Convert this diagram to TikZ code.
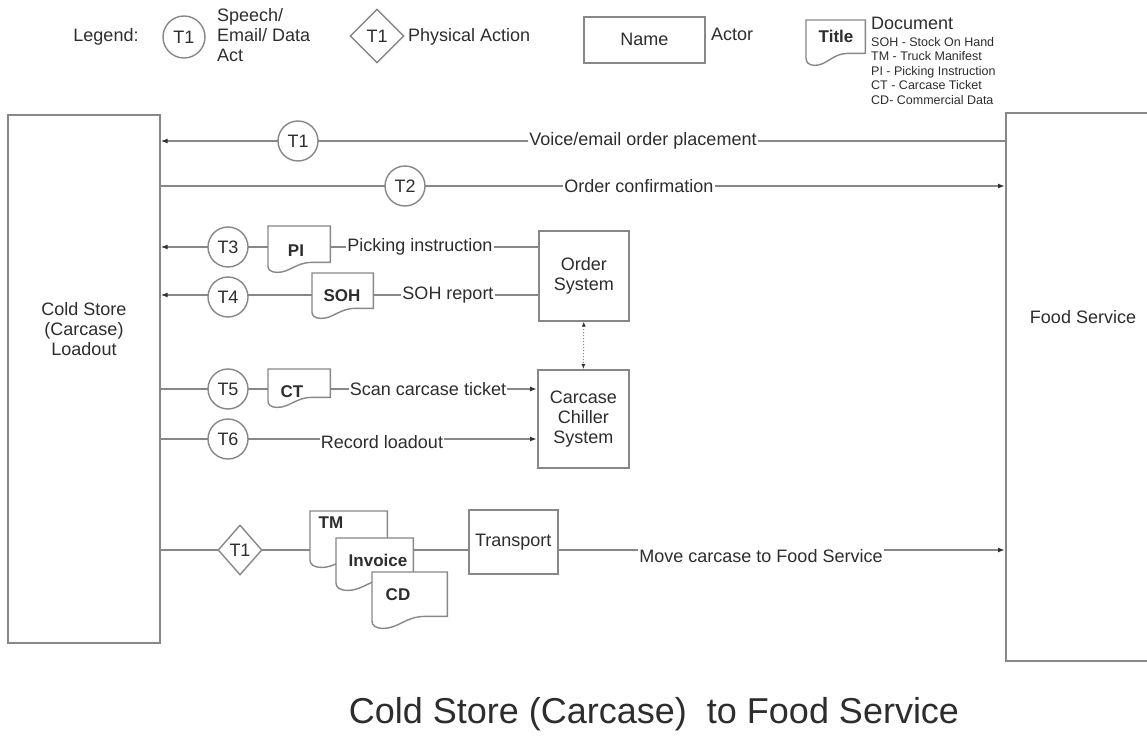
\documentclass[tikz,border=0pt]{standalone}
\usepackage{fontspec}
\setmainfont{Liberation Sans}
\usetikzlibrary{arrows.meta,shapes.geometric,calc}
\definecolor{linec}{RGB}{135,135,135}
\definecolor{txtc}{RGB}{45,45,45}
\definecolor{tipc}{RGB}{50,50,50}
\pgfdeclarelayer{background}
\pgfsetlayers{background,main}
\tikzset{
 base/.style={font=\fontsize{18}{20}\selectfont, text=txtc},
 lbl/.style={base, fill=white, inner sep=1pt, align=center},
 actor/.style={draw=linec, line width=1.6pt, fill=white, rectangle, inner sep=0pt, align=center},
 tact/.style={base, circle, draw=linec, line width=1.4pt, fill=white, minimum size=40pt, inner sep=0pt},
 pact/.style={base, diamond, draw=linec, line width=1.4pt, fill=white, inner sep=0pt},
 docbox/.style={rectangle, inner sep=0pt, anchor=north west},
 docshape/.style={draw=linec, line width=1.4pt, fill=white},
 doclbl/.style={font=\bfseries\fontsize{17}{19}\selectfont, text=txtc, inner sep=0pt},
 flow/.style={draw=linec, line width=1.6pt},
 arr/.style={flow, -{Latex[length=7pt,width=5pt,color=tipc]}},
}
\newcommand{\docpath}[2]{%
 \path[docshape] let \p1=(#1.north west), \p2=(#1.south east), \n1={\x2-\x1} in
 (\x1,\y1) -- (\x2,\y1) -- (\x2,\y2) -- ({\x1+0.7*\n1},\y2)
 .. controls ({\x1+0.45*\n1},\y2) and ({\x1+0.35*\n1},{\y2-#2}) .. ({\x1+0.15*\n1},{\y2-#2})
 .. controls ({\x1+0.04*\n1},{\y2-#2}) and (\x1,{\y2-0.7*#2}) .. (\x1,{\y2-0.4*#2}) -- cycle;}
\begin{document}
\begin{tikzpicture}[x=1pt,y=-1pt]
\useasboundingbox (0,0) rectangle (1147,751);

% ---------- legend ----------
\node[base] (legtxt) at (106,37) {Legend:};
\node[tact, minimum size=42pt] (legc) at (184,37) {T1};
\node[base, anchor=west, align=left, inner sep=0pt] (legct) at (217,35) {Speech/\\Email/ Data\\Act};
\node[pact, minimum width=54pt, minimum height=54pt] (legd) at (377,36) {T1};
\node[base, anchor=west, inner sep=0pt] (legdt) at (408,37) {Physical Action};
\node[actor, base, anchor=north west, minimum width=121pt, minimum height=46pt] (legn) at (583,16) {Name};
\node[base, anchor=west, inner sep=0pt] (legnt) at (711,34) {Actor};
\node[docbox, minimum width=59pt, minimum height=33pt] (legdoc) at (806,20) {};
\docpath{legdoc}{12pt}
\node[doclbl] (legdoctxt) at (836,36) {Title};
\node[base, anchor=west, inner sep=0pt] (legdocw) at (871,23) {Document};
\node[anchor=north west, align=left, inner sep=0pt, text=txtc, font=\fontsize{12.5}{14.5}\selectfont] (doclist) at (871,37)
 {SOH - Stock On Hand\\TM - Truck Manifest\\PI - Picking Instruction\\CT - Carcase Ticket\\CD- Commercial Data};

% ---------- actors ----------
\node[actor, anchor=north west, minimum width=152pt, minimum height=528pt] (cs) at (7,114) {};
\node[base, align=center, inner sep=0pt] (cstxt) at (84,329) {Cold Store\\(Carcase)\\Loadout};
\node[actor, anchor=north west, minimum width=170pt, minimum height=548pt] (fs) at (1005,112) {};
\node[base, inner sep=0pt] (fstxt) at (1083,317) {Food Service};
\node[actor, base, anchor=north west, minimum width=90pt, minimum height=90pt] (os) at (538,230) {Order\\System};
\node[actor, base, anchor=north west, minimum width=91pt, minimum height=98pt] (ccs) at (537,369) {Carcase\\Chiller\\System};
\node[actor, base, anchor=north west, minimum width=89pt, minimum height=64pt] (tr) at (468,509) {Transport};

% ---------- row coordinates ----------
\coordinate (r1) at (0,141);
\coordinate (r2) at (0,186);
\coordinate (r3) at (0,247);
\coordinate (r4) at (0,295);
\coordinate (r5) at (0,389);
\coordinate (r6) at (0,439);
\coordinate (r7) at (0,550);

% ---------- acts ----------
\node[tact] (t1) at (298,141) {T1};
\node[tact] (t2) at (405,186) {T2};
\node[tact] (t3) at (228,247) {T3};
\node[tact] (t4) at (228,297) {T4};
\node[tact] (t5) at (228,389) {T5};
\node[tact] (t6) at (228,439) {T6};
\node[pact, minimum width=44pt, minimum height=50pt] (p1) at (240,550) {T1};

% ---------- documents ----------
\node[docbox, minimum width=62pt, minimum height=36pt] (pi) at (268,226) {};
\docpath{pi}{10pt}
\node[doclbl] (pitxt) at (296,251) {PI};
\node[docbox, minimum width=61pt, minimum height=35pt] (soh) at (312,273) {};
\docpath{soh}{10pt}
\node[doclbl] (sohtxt) at (342,296) {SOH};
\node[docbox, minimum width=62pt, minimum height=28pt] (ct) at (268,369) {};
\docpath{ct}{10pt}
\node[doclbl] (cttxt) at (292,392) {CT};
\node[docbox, minimum width=77pt, minimum height=44pt] (tm) at (310,511) {};
\docpath{tm}{12pt}
\node[docbox, minimum width=77pt, minimum height=40pt] (inv) at (336,538) {};
\docpath{inv}{12pt}
\node[docbox, minimum width=75pt, minimum height=44pt] (cd) at (372,572) {};
\docpath{cd}{12pt}
\node[doclbl] (tmtxt) at (331,523) {TM};
\node[doclbl] (invtxt) at (378,560) {Invoice};
\node[doclbl] (cdtxt) at (398,595) {CD};

% ---------- flow labels ----------
\node[lbl] (l1) at (643,141) {Voice/email order placement};
\node[lbl] (l2) at (639,186) {Order confirmation};
\node[lbl] (l3) at (420,247) {Picking instruction};
\node[lbl] (l4) at (448,295) {SOH report};
\node[lbl] (l5) at (428,389) {Scan carcase ticket};
\node[lbl] (l6) at (382,442) {Record loadout};
\node[lbl] (l7) at (761,556) {Move carcase to Food Service};

% ---------- title ----------
\node[text=txtc, font=\fontsize{36}{40}\selectfont] (title) at (654,714) {Cold Store (Carcase)\ \ to Food Service};

% ---------- connectors ----------
\begin{pgfonlayer}{background}
\draw[arr] (fs.west |- r1) -- (cs.east |- r1);
\draw[arr] (cs.east |- r2) -- (fs.west |- r2);
\draw[arr] (os.west |- r3) -- (cs.east |- r3);
\draw[arr] (os.west |- r4) -- (cs.east |- r4);
\draw[arr] (cs.east |- r5) -- (ccs.west |- r5);
\draw[arr] (cs.east |- r6) -- (ccs.west |- r6);
\draw[flow] (cs.east |- r7) -- (tm.west |- r7);
\draw[flow] (inv.east |- r7) -- (tr.west |- r7);
\draw[arr] (tr.east |- r7) -- (fs.west |- r7);
\draw[linec, line width=1pt, dotted, {Latex[length=5pt,width=4pt,color=tipc]}-{Latex[length=5pt,width=4pt,color=tipc]}] (os.south) -- (ccs.north);
\end{pgfonlayer}
\end{tikzpicture}
\end{document}
